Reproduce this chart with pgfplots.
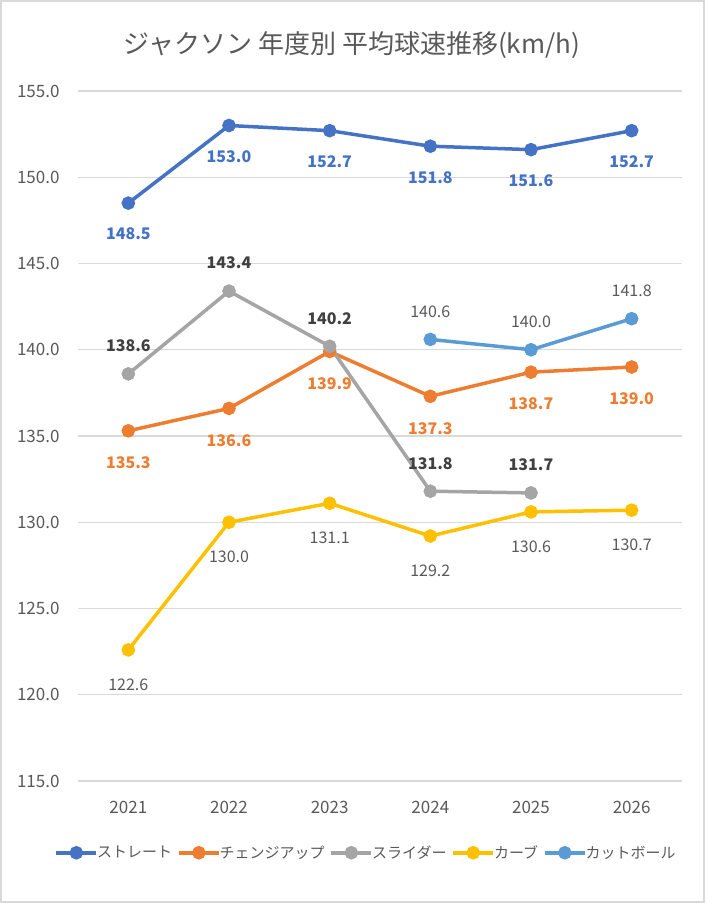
\documentclass[border=0pt]{standalone}
\usepackage{pgfplots}
\pgfplotsset{compat=1.18}
\usepackage{fontspec}
\setmainfont{Noto Sans CJK JP}
\definecolor{cBlue}{HTML}{4472C4}
\definecolor{cOrange}{HTML}{ED7D31}
\definecolor{cGray}{HTML}{A5A5A5}
\definecolor{cYellow}{HTML}{FFC000}
\definecolor{cCut}{HTML}{5B9BD5}
\definecolor{cText}{HTML}{595959}
\definecolor{cDark}{HTML}{404040}
\definecolor{cGrid}{HTML}{D9D9D9}
\begin{document}
\begin{tikzpicture}[x=1pt,y=1pt]
\path[use as bounding box] (0,0) rectangle (705,903);
\draw[color=cGrid, line width=2pt] (1,1) rectangle (704,902);
\node[font=\fontsize{26}{30}\selectfont, text=cText] at (352,858) {ジャクソン 年度別 平均球速推移(km/h)};
\begin{axis}[
  at={(78pt,122pt)}, anchor=south west,
  scale only axis, width=604pt, height=690pt,
  xmin=-0.5, xmax=5.5, ymin=115, ymax=155,
  ytick={115,120,...,155},
  xtick={0,1,2,3,4,5},
  xticklabels={2021,2022,2023,2024,2025,2026},
  axis line style={draw=none},
  tick style={draw=none},
  ymajorgrids,
  grid style={color=cGrid, line width=1.2pt},
  /pgf/number format/assume math mode=true,
  /pgf/number format/fixed,
  /pgf/number format/fixed zerofill,
  /pgf/number format/precision=1,
  ticklabel style={font=\fontsize{17}{19}\selectfont, text=cText},
  yticklabel style={xshift=-15pt},
  xticklabel style={yshift=-17pt},
  clip=false,
  every axis plot/.append style={line width=3.5pt, mark=*, mark size=5pt},
  nodes near coords,
  legend columns=5,
  legend style={at={(0.477,-0.104)}, anchor=center, draw=none, fill=none,
    font=\fontsize{15}{17}\selectfont, text=cText,
    /tikz/every even column/.append style={column sep=3pt},
    /tikz/every odd column/.append style={column sep=-3pt}},
  legend image code/.code={\draw[mark repeat=2,mark phase=2,#1] plot coordinates {(0pt,0pt) (20pt,0pt) (40pt,0pt)};},
]
\addplot[color=cBlue, every node near coord/.append style={anchor=center, yshift=-31pt, text=cBlue, font=\fontsize{16}{18}\selectfont\bfseries}]
  coordinates {(0,148.5) (1,153.0) (2,152.7) (3,151.8) (4,151.6) (5,152.7)};
\addlegendentry{ストレート}
\addplot[color=cOrange, every node near coord/.append style={anchor=center, yshift=-32pt, text=cOrange, font=\fontsize{16}{18}\selectfont\bfseries}]
  coordinates {(0,135.3) (1,136.6) (2,139.9) (3,137.3) (4,138.7) (5,139.0)};
\addlegendentry{チェンジアップ}
\addplot[color=cGray, every node near coord/.append style={anchor=center, yshift=28pt, text=cDark, font=\fontsize{16}{18}\selectfont\bfseries}]
  coordinates {(0,138.6) (1,143.4) (2,140.2) (3,131.8) (4,131.7)};
\addlegendentry{スライダー}
\addplot[color=cYellow, every node near coord/.append style={anchor=center, yshift=-35pt, text=cText, font=\fontsize{16}{18}\selectfont}]
  coordinates {(0,122.6) (1,130.0) (2,131.1) (3,129.2) (4,130.6) (5,130.7)};
\addlegendentry{カーブ}
\addplot[color=cCut, every node near coord/.append style={anchor=center, yshift=28pt, text=cText, font=\fontsize{16}{18}\selectfont}]
  coordinates {(3,140.6) (4,140.0) (5,141.8)};
\addlegendentry{カットボール}
\end{axis}
\end{tikzpicture}
\end{document}
